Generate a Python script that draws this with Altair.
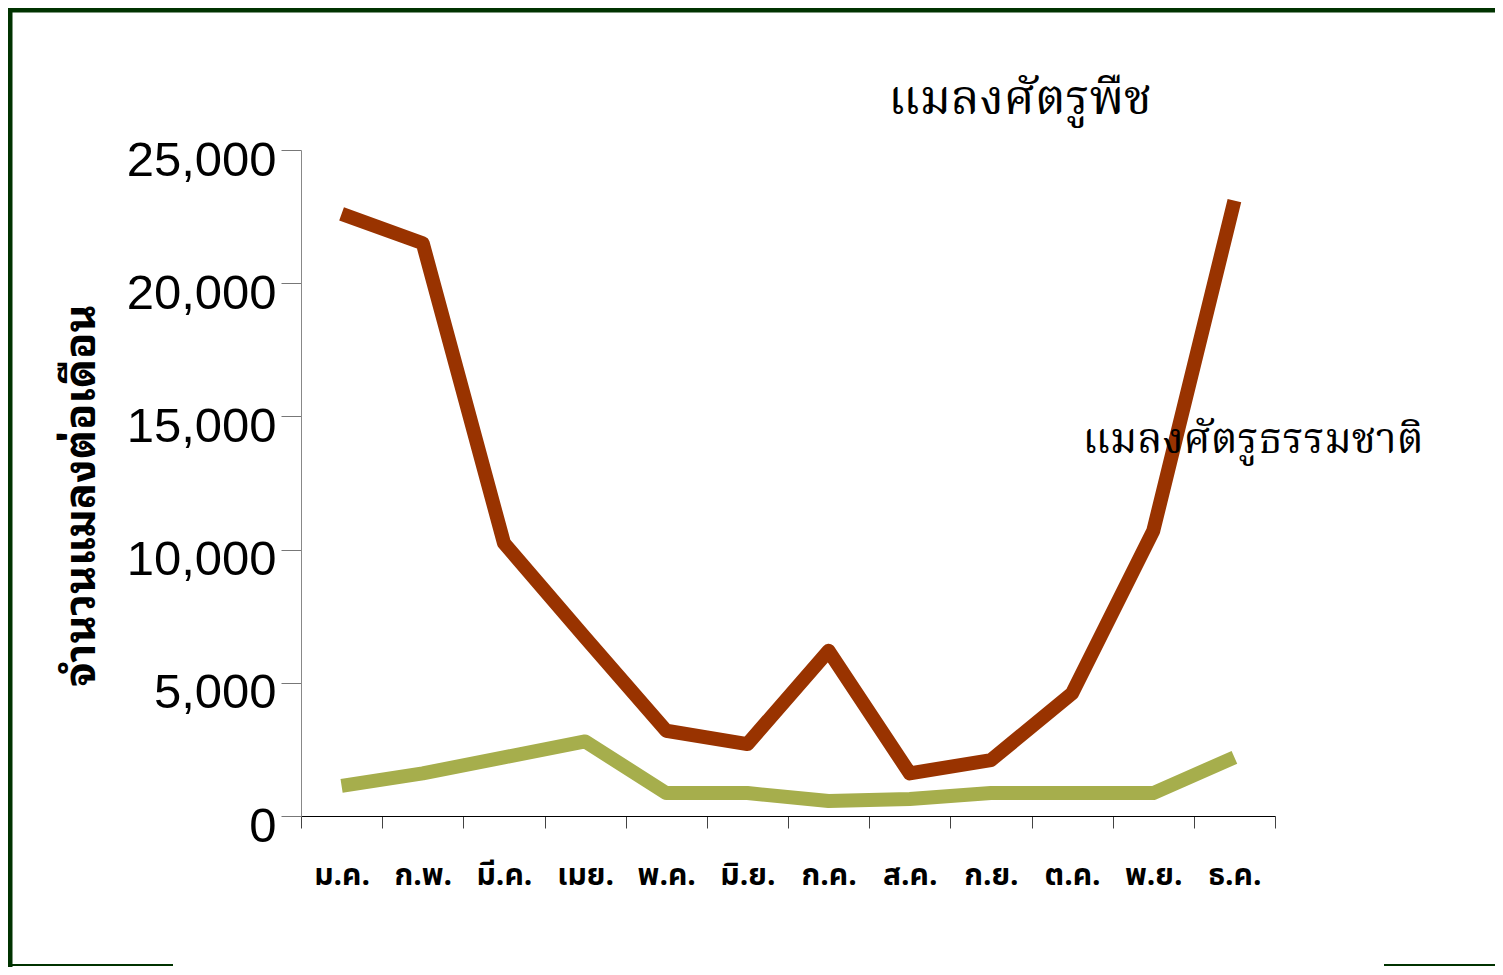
import altair as alt
import pandas as pd

months = ["ม.ค.", "ก.พ.", "มี.ค.", "เมย.", "พ.ค.", "มิ.ย.", "ก.ค.", "ส.ค.", "ก.ย.", "ต.ค.", "พ.ย.", "ธ.ค."]
pests = [22600, 21500, 10250, 6700, 3200, 2700, 6200, 1600, 2100, 4600, 10700, 23100]
enemies = [1130, 1600, 2200, 2800, 860, 860, 560, 640, 860, 860, 860, 2200]
series_names = ["แมลงศัตรูพืช", "แมลงศัตรูธรรมชาติ"]
series_colors = ["#993300", "#A6AE4C"]
y_ticks = [0, 5000, 10000, 15000, 20000, 25000]

rows = []
for m, p, e in zip(months, pests, enemies):
    rows.append({"month": m, "value": p, "series": series_names[0]})
    rows.append({"month": m, "value": e, "series": series_names[1]})
df = pd.DataFrame(rows)

x_enc = alt.X(
    "month:N",
    sort=months,
    bandPosition=0.5,
    scale=alt.Scale(type="band", paddingInner=0, paddingOuter=0),
    axis=alt.Axis(
        title=None, labelAngle=0, tickBand="extent", tickSize=12, tickColor="#444444",
        domainColor="#000000", labelFont="Noto Sans Thai, Loma, Garuda, sans-serif", labelFontWeight="bold",
        labelFontSize=30, labelColor="#000000", labelPadding=32,
    ),
)
y_enc = alt.Y(
    "value:Q",
    scale=alt.Scale(domain=[0, 25000], nice=False),
    axis=alt.Axis(
        values=y_ticks, format=",d", title="จำนวนแมลงต่อเดือน",
        titleFont="Noto Sans Thai Looped, Loma, Garuda, sans-serif",
        titleFontWeight="bold", titleFontSize=43, titleColor="#000000",
        titleX=-220, titleY=345, titleAngle=270, titleAlign="center", titleBaseline="middle",
        grid=False, domainColor="#888888", tickColor="#777777", tickSize=20,
        labelFont="Liberation Sans", labelFontSize=49, labelColor="#000000",
        labelPadding=5, labelOffset=10, labelFontWeight="normal",
        labelExpr="datum.value == 0 ? '0\u00a0' : datum.label",
    ),
)

lines = alt.Chart(df).mark_line(strokeWidth=14, strokeCap="butt", strokeJoin="round").encode(
    x=x_enc,
    y=y_enc,
    color=alt.Color("series:N", scale=alt.Scale(domain=series_names, range=series_colors), legend=None),
    detail="series:N",
)

serif_thai = "Noto Serif Thai, Norasi, Laksaman, Kinnari, FreeSerif, serif"
label_df = pd.DataFrame({"text": series_names})
labels1 = alt.Chart(label_df.iloc[[0]]).mark_text(font=serif_thai, fontSize=48, color="#000000", align="center", baseline="middle").encode(
    text="text:N", x=alt.value(719), y=alt.value(-50)
)
labels2 = alt.Chart(label_df.iloc[[1]]).mark_text(font=serif_thai, fontSize=42, color="#000000", align="center", baseline="middle").encode(
    text="text:N", x=alt.value(952), y=alt.value(290)
)

one = pd.DataFrame({"a": [0]})
border_c = "#003300"
left_b = alt.Chart(one).mark_rule(color=border_c, strokeWidth=7).encode(x=alt.value(-292), y=alt.value(-143), y2=alt.value(817))
top_b = alt.Chart(one).mark_rule(color=border_c, strokeWidth=7).encode(x=alt.value(-295), x2=alt.value(1202), y=alt.value(-141))
bot1 = alt.Chart(one).mark_rule(color=border_c, strokeWidth=2).encode(x=alt.value(-295), x2=alt.value(-128), y=alt.value(815))
bot2 = alt.Chart(one).mark_rule(color=border_c, strokeWidth=2).encode(x=alt.value(1083), x2=alt.value(1202), y=alt.value(815))

chart = alt.layer(lines, labels1, labels2, left_b, top_b, bot1, bot2).properties(
    width=974, height=666,
    autosize=alt.AutoSizeParams(type="none"),
    padding={"left": 293, "top": 142, "right": 220, "bottom": 151},
).configure(background="#ffffff").configure_view(stroke=None)

chart.save("out.html", embed_options={"renderer": "svg", "actions": False})
